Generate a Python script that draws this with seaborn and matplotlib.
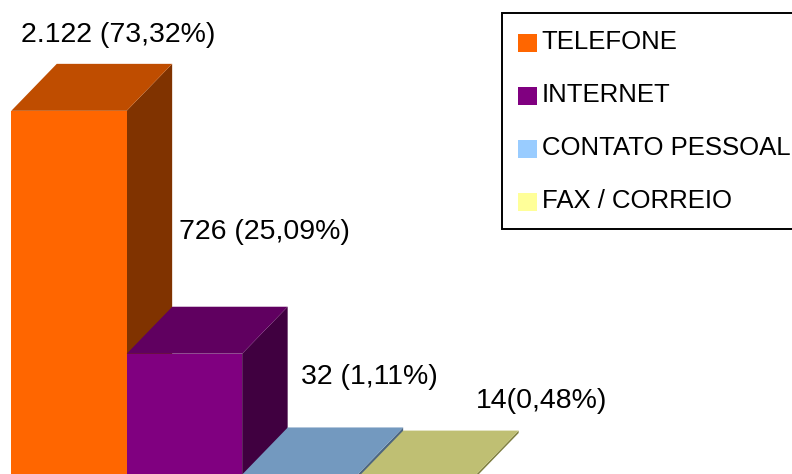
import matplotlib
matplotlib.use("Agg")
import matplotlib.pyplot as plt
from matplotlib.patches import Polygon, Patch, Rectangle
import pandas as pd
import seaborn as sb

sb.set_theme(style="white")
plt.rcParams['font.family'] = ['Liberation Sans', 'DejaVu Sans']

canais = ["TELEFONE", "INTERNET", "CONTATO PESSOAL", "FAX / CORREIO"]
valores = [2122, 726, 32, 14]
rotulos = ["2.122 (73,32%)", "726 (25,09%)", "32 (1,11%)", "14(0,48%)"]
cores = ["#FF6600", "#800080", "#99CCFF", "#FFFF99"]
cores_topo = ["#BF4D00", "#600060", "#7399BF", "#BFBF73"]
cores_lado = ["#803300", "#400040", "#4D6680", "#808040"]

W, H = 792, 474
rotulo_px = [(21, 35), (179, 232), (301, 377), (476, 401)]

df = pd.DataFrame({"canal": canais, "valor": valores})

fig = plt.figure(figsize=(W / 100, H / 100), dpi=100, facecolor="white")
ax = fig.add_axes([0, 0, 1, 1])
sb.barplot(x="canal", y="valor", hue="canal", data=df, palette=cores, order=canais,
           hue_order=canais, width=0.999, saturation=1, legend=False, linewidth=0, ax=ax)

# profundidade do efeito 3D, em unidades dos eixos
dx = 0.394
dy = 270

barras = [c[0] for c in ax.containers]
for i, b in enumerate(barras):
    x0, x1 = b.get_x(), b.get_x() + b.get_width()
    y0, y1 = b.get_y(), b.get_y() + b.get_height()
    lado = [(x1, y0), (x1 + dx, y0 + dy), (x1 + dx, y1 + dy), (x1, y1)]
    topo = [(x0, y1), (x0 + dx, y1 + dy), (x1 + dx, y1 + dy), (x1, y1)]
    # barras seguintes ficam na frente das anteriores
    ax.add_patch(Polygon(lado, facecolor=cores_lado[i], edgecolor="none", zorder=2 + i))
    ax.add_patch(Polygon(topo, facecolor=cores_topo[i], edgecolor="none", zorder=2 + i))
    b.set_zorder(2.5 + i)

ax.set_xlim(-0.597, 6.26)
ax.set_ylim(34.5, 2759)
ax.axis("off")

for txt, (px, py) in zip(rotulos, rotulo_px):
    fig.text(px / W, 1 - py / H, txt, fontsize=20.5, color="black", ha="left", va="center")

# caixa da legenda desenhada a parte, passa da borda direita
ax.add_patch(Rectangle((502 / W, 1 - 229 / H), 300 / W, 216 / H, transform=fig.transFigure,
                       facecolor="white", edgecolor="black", linewidth=1.4, zorder=8,
                       clip_on=False))

handles = [Patch(facecolor=c, edgecolor="none", label=n) for c, n in zip(cores, canais)]
leg = ax.legend(handles=handles, loc="upper left", bbox_to_anchor=(502 / W, 1 - 14 / H),
                bbox_transform=fig.transFigure, borderaxespad=0, fontsize=18.5,
                frameon=False, labelcolor="black",
                handlelength=0.73, handleheight=0.7, handletextpad=0.2,
                borderpad=0.62, labelspacing=1.13)
leg.set_zorder(9)
for p in leg.get_patches():
    p.set_y(p.get_y() - 2)

fig.savefig("out.png", dpi=100)
